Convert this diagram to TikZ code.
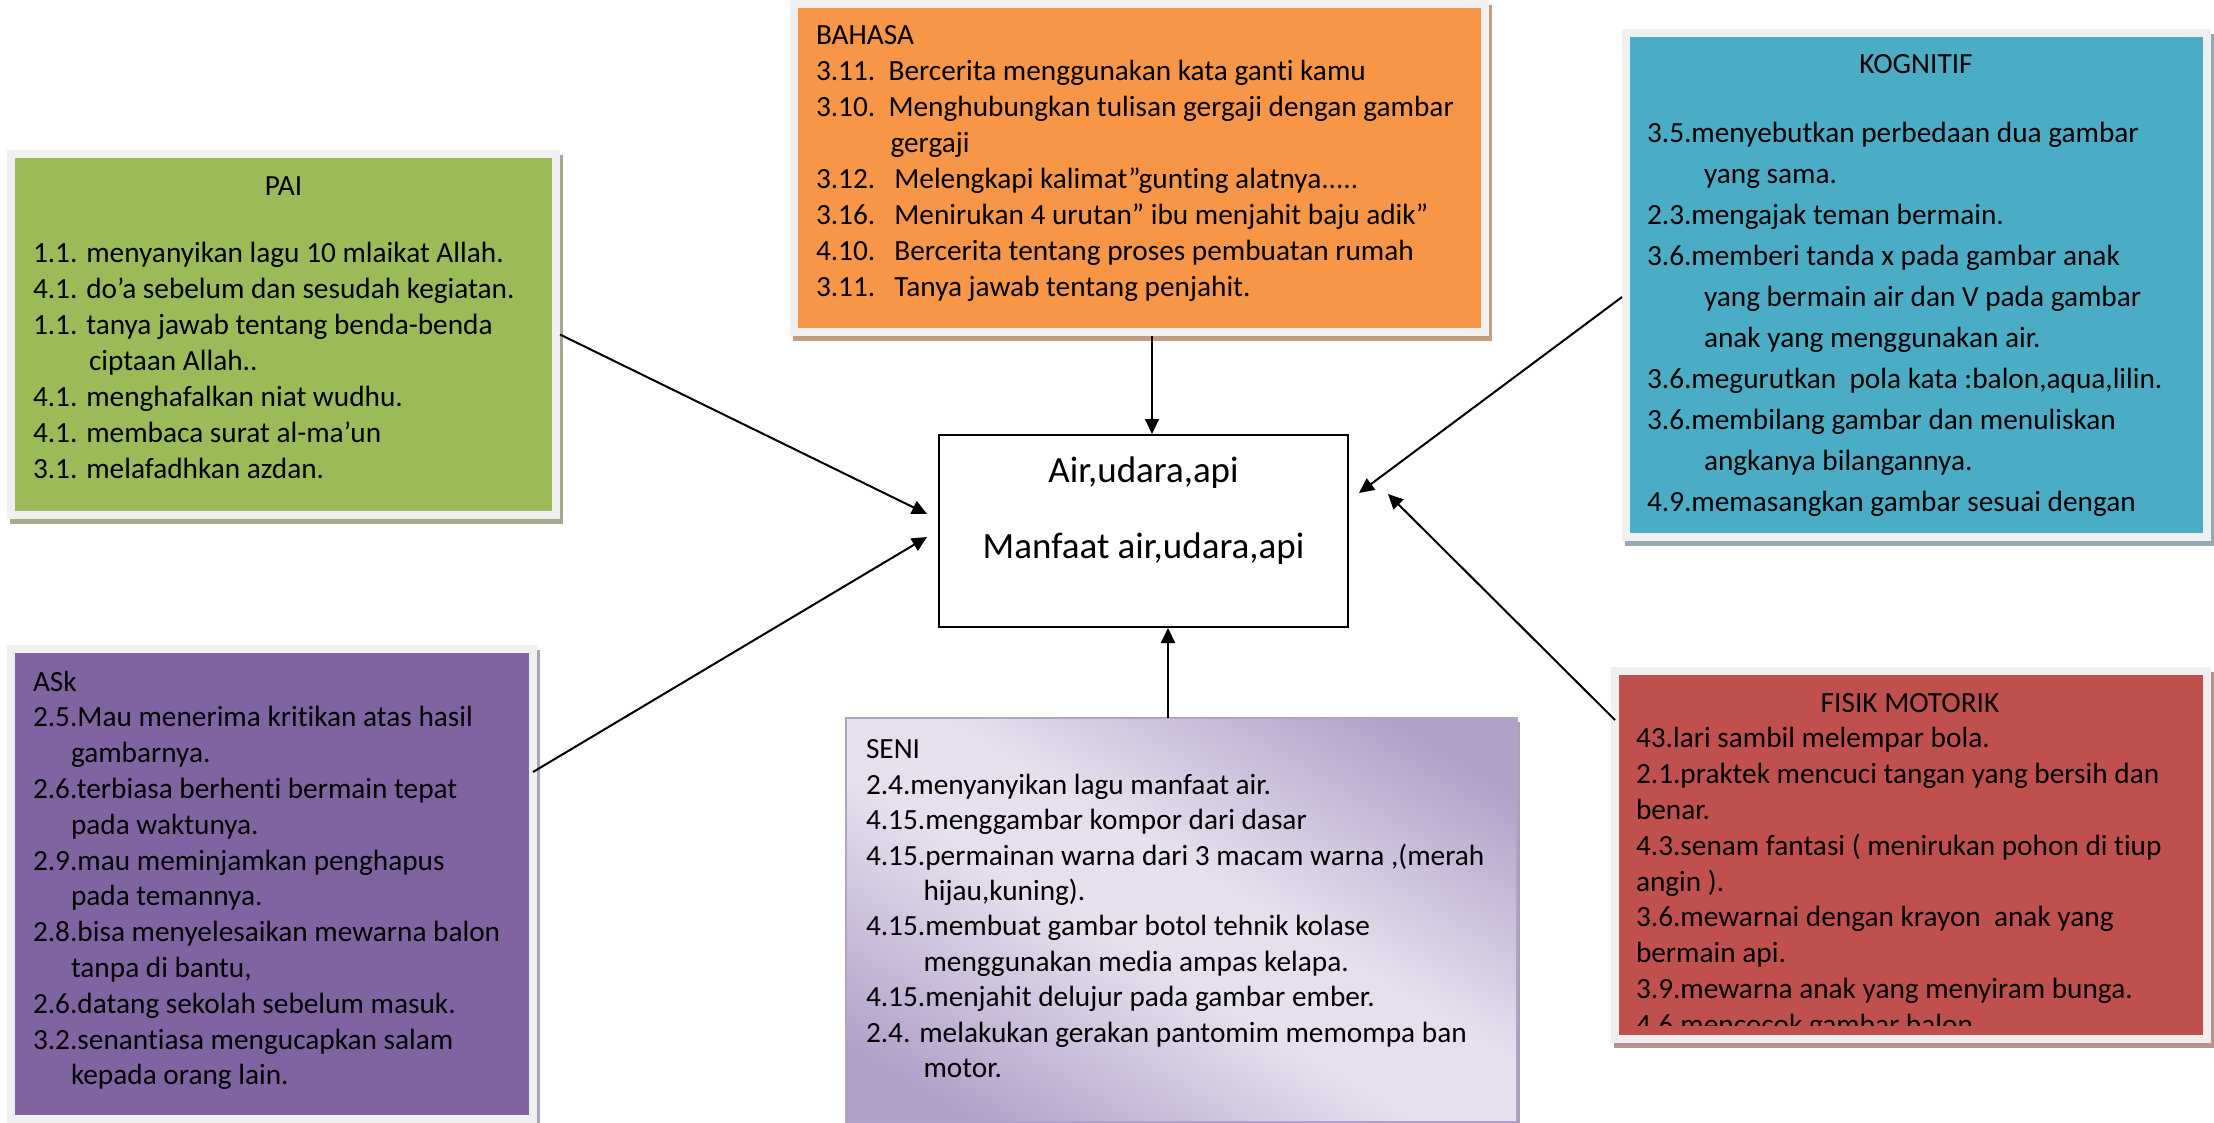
\documentclass[tikz,border=0pt]{standalone}
\usepackage{fontspec}
\setmainfont{Carlito}[Ligatures={TeX,NoCommon}]
\usetikzlibrary{arrows.meta,shadows}
\definecolor{framegray}{HTML}{F0F0F0}
\definecolor{pagreen}{HTML}{9BBB59}
\definecolor{pashadow}{HTML}{A2AB8E}
\definecolor{bahorange}{HTML}{F79646}
\definecolor{bahshadow}{HTML}{C59C7E}
\definecolor{kogblue}{HTML}{4BACC6}
\definecolor{kogshadow}{HTML}{93AAB2}
\definecolor{askpurple}{HTML}{8064A2}
\definecolor{askshadow}{HTML}{ABA4B5}
\definecolor{fisred}{HTML}{C0504D}
\definecolor{fisshadow}{HTML}{B8928F}
\definecolor{senil}{HTML}{E6E0EE}
\definecolor{senid}{HTML}{B1A0C8}
\definecolor{senib}{HTML}{B3A2C7}
\definecolor{senishadow}{HTML}{A8A0B3}
\pgfdeclarehorizontalshading{senishade}{100bp}{color(0bp)=(senid); color(22bp)=(senid); color(45bp)=(senil); color(55bp)=(senil); color(78bp)=(senid); color(100bp)=(senid)}
\begin{document}
\begin{tikzpicture}[x=1pt,y=-1pt,
  cbox/.style n args={2}{rectangle, inner sep=0pt, outer sep=0pt, fill=framegray,
    drop shadow={shadow xshift=3pt, shadow yshift=-5pt, fill=#2, opacity=1},
    path picture={\fill[#1] ([shift={(8pt,-8pt)}]path picture bounding box.north west) rectangle ([shift={(-8pt,8pt)}]path picture bounding box.south east);}},
  senibox/.style={rectangle, inner sep=0pt, outer sep=0pt, draw=senib, line width=2.5pt,
    shade, shading=senishade, shading angle=59,
    drop shadow={shadow xshift=3pt, shadow yshift=-4pt, fill=senishadow, opacity=1}},
  cenbox/.style={rectangle, inner sep=0pt, outer sep=0pt, draw=black, line width=1.8pt, fill=white},
  txt/.style={anchor=north west, inner sep=0pt, outer sep=0pt, align=left},
  ttl/.style={anchor=base, inner sep=0pt, outer sep=0pt, font=\fontsize{29.3}{36}\selectfont},
  ctxt/.style={anchor=base, inner sep=0pt, outer sep=0pt, font=\fontsize{37}{44}\selectfont},
  arr/.style={line width=2pt, -{Triangle[length=15pt,width=14pt]}}
]
\useasboundingbox (0,0) rectangle (2214,1123);

% boxes
\node[cbox={pagreen}{pashadow}, minimum width=553pt, minimum height=369pt] (pai) at (283.5,334.5) {};
\node[cbox={bahorange}{bahshadow}, minimum width=699pt, minimum height=336pt] (bah) at (1139.5,168) {};
\node[cbox={kogblue}{kogshadow}, minimum width=589pt, minimum height=512pt] (kog) at (1916.5,285) {};
\node[cbox={askpurple}{askshadow}, minimum width=530pt, minimum height=478pt] (ask) at (272,884) {};
\node[cbox={fisred}{fisshadow}, minimum width=600pt, minimum height=376pt] (fis) at (1911,855) {};
\node[senibox, minimum width=671pt, minimum height=404pt] (seni) at (1181.5,920) {};
\node[cenbox, minimum width=409pt, minimum height=192pt] (cen) at (1143.5,531) {};

% central text
\node[ctxt] (c1) at (1143.5,482) {Air,udara,api};
\node[ctxt] (c2) at (1143.5,558) {Manfaat air,udara,api};

% PAI
\node[ttl] (paititle) at (283.5,196) {PAI};
\node[txt, font=\fontsize{29.3}{36}\selectfont] (paitxt) at (33,236.8) {\strut 1.1. menyanyikan lagu 10 mlaikat Allah.\\
4.1. do’a sebelum dan sesudah kegiatan.\\
1.1. tanya jawab tentang benda-benda\\
\hspace*{56pt}ciptaan Allah..\\
4.1. menghafalkan niat wudhu.\\
4.1. membaca surat al-ma’un\\
3.1. melafadhkan azdan.};

% BAHASA
\node[txt, font=\fontsize{29.3}{36}\selectfont] (bahtxt) at (816,19.8) {\strut BAHASA\\
\makebox[72.6pt][l]{3.11.}Bercerita menggunakan kata ganti kamu\\
\makebox[72.6pt][l]{3.10.}Menghubungkan tulisan gergaji dengan gambar\\
\hspace*{74.5pt}gergaji\\
\makebox[78.4pt][l]{3.12.}Melengkapi kalimat”gunting alatnya.....\\
\makebox[78.4pt][l]{3.16.}Menirukan 4 urutan” ibu menjahit baju adik”\\
\makebox[78.4pt][l]{4.10.}Bercerita tentang proses pembuatan rumah\\
\makebox[78.4pt][l]{3.11.}Tanya jawab tentang penjahit.};

% KOGNITIF
\node[ttl] (kogtitle) at (1916,74) {KOGNITIF};
\node[txt, font=\fontsize{29.3}{41}\selectfont] (kogtxt) at (1647,113.3) {\strut 3.5.menyebutkan perbedaan dua gambar\\
\hspace*{57pt}yang sama.\\
2.3.mengajak teman bermain.\\
3.6.memberi tanda x pada gambar anak\\
\hspace*{57pt}yang bermain air dan V pada gambar\\
\hspace*{57pt}anak yang menggunakan air.\\
3.6.megurutkan\ \ pola kata :balon,aqua,lilin.\\
3.6.membilang gambar dan menuliskan\\
\hspace*{57pt}angkanya bilangannya.\\
4.9.memasangkan gambar sesuai dengan};

% ASk
\node[txt, font=\fontsize{29.3}{35.8}\selectfont] (asktxt) at (33,666.1) {\strut ASk\\
2.5.Mau menerima kritikan atas hasil\\
\hspace*{38pt}gambarnya.\\
2.6.terbiasa berhenti bermain tepat\\
\hspace*{38pt}pada waktunya.\\
2.9.mau meminjamkan penghapus\\
\hspace*{38pt}pada temannya.\\
2.8.bisa menyelesaikan mewarna balon\\
\hspace*{38pt}tanpa di bantu,\\
2.6.datang sekolah sebelum masuk.\\
3.2.senantiasa mengucapkan salam\\
\hspace*{38pt}kepada orang lain.};

% SENI
\node[txt, font=\fontsize{29.3}{35.4}\selectfont] (senitxt) at (866,734.2) {\strut SENI\\
2.4.menyanyikan lagu manfaat air.\\
4.15.menggambar kompor dari dasar\\
4.15.permainan warna dari 3 macam warna ,(merah\\
\hspace*{57.5pt}hijau,kuning).\\
4.15.membuat gambar botol tehnik kolase\\
\hspace*{57.5pt}menggunakan media ampas kelapa.\\
4.15.menjahit delujur pada gambar ember.\\
2.4. melakukan gerakan pantomim memompa ban\\
\hspace*{57.5pt}motor.};

% FISIK MOTORIK
\node[ttl] (fistitle) at (1910,712) {FISIK MOTORIK};
\begin{scope}
\clip (1619,675) rectangle (2203,1025);
\node[txt, font=\fontsize{29.3}{35.8}\selectfont] (fistxt) at (1636,722.9) {\strut 43.lari sambil melempar bola.\\
2.1.praktek mencuci tangan yang bersih dan\\
benar.\\
4.3.senam fantasi ( menirukan pohon di tiup\\
angin ).\\
3.6.mewarnai dengan krayon\ \ anak yang\\
bermain api.\\
3.9.mewarna anak yang menyiram bunga.\\
4.6.mencocok gambar balon};
\end{scope}

% connectors
\draw[arr] (pai.east) -- ([shift={(-12pt,17pt)}]cen.west);
\draw[arr] ([shift={(-4pt,-127pt)}]ask.north east) -- ([shift={(-12pt,-6pt)}]cen.west);
\draw[arr] ([xshift=12.5pt]bah.south) -- ([shift={(8.5pt,1pt)}]cen.north);
\draw[arr] ([xshift=-13.5pt]seni.north) -- ([shift={(24.5pt,-1pt)}]cen.south);
\draw[arr] ([yshift=-12pt]kog.west) -- ([shift={(11pt,38pt)}]cen.east);
\draw[arr] ([shift={(4pt,-53pt)}]fis.north west) -- ([shift={(40pt,37pt)}]cen.east);
\end{tikzpicture}
\end{document}
